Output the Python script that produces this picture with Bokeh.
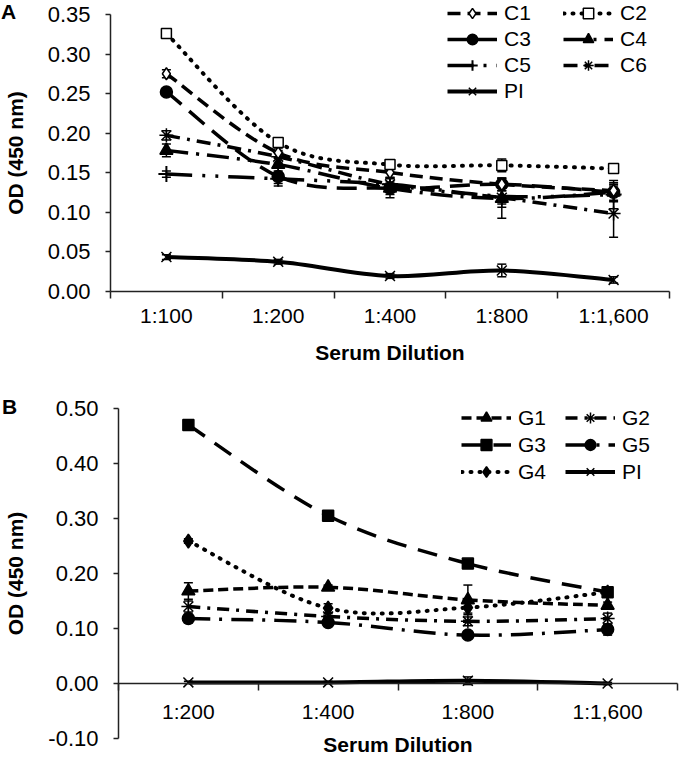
from bokeh.plotting import figure
from bokeh.models import (ColumnDataSource, FixedTicker, NumeralTickFormatter, Legend, LegendItem,
                          Whisker, TeeHead, Label, Range1d)
from bokeh.layouts import column
from bokeh.embed import file_html
from bokeh.resources import INLINE

FONT = "Liberation Sans"

# ---------------- Panel A data ----------------
a_dilutions = ["1:100", "1:200", "1:400", "1:800", "1:1,600"]
a_yticks = [0.00, 0.05, 0.10, 0.15, 0.20, 0.25, 0.30, 0.35]
a_C1 = [0.275, 0.175, 0.150, 0.135, 0.127]
a_C1_err = [0.005, 0.006, 0.006, 0.008, 0.006]
a_C2 = [0.326, 0.188, 0.160, 0.159, 0.155]
a_C2_err = [0.004, 0.006, 0.005, 0.008, 0.004]
a_C3 = [0.252, 0.145, 0.130, 0.135, 0.125]
a_C3_err = [0.004, 0.012, 0.008, 0.008, 0.010]
a_C4 = [0.178, 0.160, 0.130, 0.117, 0.125]
a_C4_err = [0.008, 0.008, 0.012, 0.025, 0.012]
a_C5 = [0.148, 0.142, 0.135, 0.120, 0.122]
a_C5_err = [0.004, 0.006, 0.008, 0.010, 0.018]
a_C6 = [0.197, 0.170, 0.135, 0.118, 0.098]
a_C6_err = [0.006, 0.008, 0.008, 0.012, 0.030]
a_PI = [0.043, 0.037, 0.019, 0.026, 0.014]
a_PI_err = [0.003, 0.003, 0.003, 0.008, 0.004]

# ---------------- Panel B data ----------------
b_dilutions = ["1:200", "1:400", "1:800", "1:1,600"]
b_yticks = [-0.10, 0.00, 0.10, 0.20, 0.30, 0.40, 0.50]
b_G1 = [0.168, 0.175, 0.152, 0.142]
b_G1_err = [0.015, 0.004, 0.027, 0.006]
b_G2 = [0.140, 0.122, 0.113, 0.118]
b_G2_err = [0.010, 0.005, 0.008, 0.010]
b_G3 = [0.470, 0.305, 0.218, 0.166]
b_G3_err = [0.004, 0.004, 0.005, 0.004]
b_G4 = [0.259, 0.137, 0.138, 0.166]
b_G4_err = [0.004, 0.008, 0.010, 0.008]
b_G5 = [0.118, 0.111, 0.088, 0.098]
b_G5_err = [0.008, 0.006, 0.006, 0.010]
b_PI = [0.002, 0.002, 0.005, 0.000]
b_PI_err = [0.002, 0.002, 0.007, 0.002]


def bezier_source(ys):
    n = len(ys)
    xs = list(range(1, n + 1))
    d = dict(x0=[], y0=[], x1=[], y1=[], cx0=[], cy0=[], cx1=[], cy1=[])
    for i in range(n - 1):
        ip = max(i - 1, 0)
        inx = min(i + 2, n - 1)
        d["x0"].append(xs[i]); d["y0"].append(ys[i])
        d["x1"].append(xs[i + 1]); d["y1"].append(ys[i + 1])
        d["cx0"].append(xs[i] + (xs[i + 1] - xs[ip]) / 6.0)
        d["cy0"].append(ys[i] + (ys[i + 1] - ys[ip]) / 6.0)
        d["cx1"].append(xs[i + 1] - (xs[inx] - xs[i]) / 6.0)
        d["cy1"].append(ys[i + 1] - (ys[inx] - ys[i]) / 6.0)
    return ColumnDataSource(d)


def add_series(p, ys, errs, marker, size, fill, dash, width=3.5, cap="butt", mlw=1.5):
    n = len(ys)
    xs = list(range(1, n + 1))
    p.bezier(x0="x0", y0="y0", x1="x1", y1="y1", cx0="cx0", cy0="cy0", cx1="cx1", cy1="cy1",
             source=bezier_source(ys), line_color="black", line_width=width,
             line_dash=dash, line_cap=cap)
    # hidden line renderer: only supplies the legend swatch
    proxy = p.line(x=xs, y=ys, line_color="black", line_width=width, line_dash=dash,
                   line_cap=cap, visible=False)
    pts = ColumnDataSource(dict(x=xs, y=ys,
                                upper=[y + e for y, e in zip(ys, errs)],
                                lower=[y - e for y, e in zip(ys, errs)]))
    sc = p.scatter(x="x", y="y", source=pts, marker=marker, size=size, fill_color=fill,
                   line_color="black", line_width=mlw)
    w = Whisker(source=pts, base="x", upper="upper", lower="lower", line_color="black",
                line_width=1.5,
                upper_head=TeeHead(size=9, line_color="black", line_width=1.5),
                lower_head=TeeHead(size=9, line_color="black", line_width=1.5))
    p.add_layout(w)
    return [proxy, sc]


def make_fig(n, ymin, ymax, yticks, W, H, ax_left, ax_right, y_top_px, y_bot_px):
    # the frame fills the whole canvas; axes are pinned inside it
    sx = (ax_right - ax_left) / n
    sy = (y_bot_px - y_top_px) / (ymax - ymin)
    xr = Range1d(0.5 - ax_left / sx, n + 0.5 + (W - ax_right) / sx)
    yr = Range1d(ymin - (H - y_bot_px) / sy, ymax + y_top_px / sy)
    p = figure(width=W, height=H, x_range=xr, y_range=yr,
               output_backend="svg", toolbar_location=None, min_border=0)
    p.xgrid.visible = False
    p.ygrid.visible = False
    p.outline_line_color = None
    p.background_fill_color = "white"
    for ax in (p.xaxis[0], p.yaxis[0]):
        ax.axis_line_color = "#222222"
        ax.axis_line_width = 1.5
        ax.major_label_text_font = FONT
        ax.major_label_text_font_size = "21px"
        ax.major_label_text_color = "black"
        ax.axis_label_text_font = FONT
        ax.axis_label_text_font_size = "21px"
        ax.axis_label_text_font_style = "bold"
        ax.axis_label_text_color = "black"
    p.yaxis.fixed_location = 0.5
    p.yaxis.bounds = (ymin, ymax)
    p.yaxis.ticker = FixedTicker(ticks=yticks)
    p.yaxis.formatter = NumeralTickFormatter(format="0.00")
    p.yaxis.major_label_text_font_size = "22px"
    p.yaxis.major_tick_out = 5
    p.yaxis.major_tick_in = 0
    p.yaxis.major_tick_line_color = "#222222"
    p.yaxis.major_tick_line_width = 1.5
    p.yaxis.minor_tick_line_color = None
    p.yaxis.axis_label = "OD (450 nm)"
    p.xaxis.fixed_location = 0
    p.xaxis.bounds = (0.5, n + 0.5)
    p.xaxis.ticker = FixedTicker(ticks=list(range(1, n + 1)),
                                 minor_ticks=[i + 0.5 for i in range(0, n + 1)])
    p.xaxis.major_tick_out = 0
    p.xaxis.major_tick_in = 0
    p.xaxis.minor_tick_out = 7
    p.xaxis.minor_tick_in = 0
    p.xaxis.minor_tick_line_color = "#222222"
    p.xaxis.minor_tick_line_width = 1.5
    p.xaxis.axis_label = "Serum Dilution"
    return p


def make_legend(items, x_left, y_top, gh, H):
    n = len(items)
    return Legend(items=items, location=(x_left, H - y_top - n * gh), orientation="vertical",
                  border_line_color=None, background_fill_alpha=0,
                  label_text_font=FONT, label_text_font_size="21px",
                  label_text_color="black",
                  glyph_width=50, glyph_height=gh, label_height=gh, label_standoff=7,
                  spacing=0, padding=0, margin=0)


# ================= Panel A =================
HA = 362
pA = make_fig(len(a_dilutions), 0.0, 0.35, a_yticks, 680, HA, 110, 669, 14, 290.5)
pA.xaxis.major_label_overrides = {i + 1: s for i, s in enumerate(a_dilutions)}
pA.xaxis.major_label_standoff = 6
pA.xaxis.axis_label_standoff = 10
pA.yaxis.major_label_standoff = 15
pA.yaxis.axis_label_standoff = 18

rA_PI = add_series(pA, a_PI, a_PI_err, "x", 14, None, "solid", width=4, mlw=1.5)
rA_C5 = add_series(pA, a_C5, a_C5_err, "cross", 16, None, "26 10 3 10 3 10", mlw=2)
rA_C4 = add_series(pA, a_C4, a_C4_err, "triangle", 13, "black", "22 8 3 8")
rA_C6 = add_series(pA, a_C6, a_C6_err, "asterisk", 14, None, "14 7 3 7", mlw=1.5)
rA_C3 = add_series(pA, a_C3, a_C3_err, "circle", 12, "black", "20 10")
rA_C1 = add_series(pA, a_C1, a_C1_err, "diamond", 12, "white", "13 7")
rA_C2 = add_series(pA, a_C2, a_C2_err, "square", 10, "white", "1 8", width=4, cap="round")

pA.add_layout(make_legend([LegendItem(label="C1", renderers=rA_C1),
                           LegendItem(label="C3", renderers=rA_C3),
                           LegendItem(label="C5", renderers=rA_C5),
                           LegendItem(label="PI", renderers=rA_PI)], 447, 0, 26, HA))
pA.add_layout(make_legend([LegendItem(label="C2", renderers=rA_C2),
                           LegendItem(label="C4", renderers=rA_C4),
                           LegendItem(label="C6", renderers=rA_C6)], 563, 0, 26, HA))
pA.add_layout(Label(x=8, y=HA - 11, x_units="screen", y_units="screen", text="A",
                    text_font=FONT, text_font_size="21px", text_font_style="bold",
                    text_align="center", text_baseline="middle", text_color="black"))

# ================= Panel B =================
HB = 397
pB = make_fig(len(b_dilutions), -0.10, 0.50, b_yticks, 680, HB, 118, 677, 46, 376)
pB.xaxis.major_label_overrides = {i + 1: s for i, s in enumerate(b_dilutions)}
pB.xaxis.major_label_standoff = 9
pB.xaxis.axis_label_standoff = 7
pB.yaxis.major_label_standoff = 15
pB.yaxis.axis_label_standoff = 18

rB_PI = add_series(pB, b_PI, b_PI_err, "x", 14, None, "solid", width=4, mlw=1.5)
rB_G5 = add_series(pB, b_G5, b_G5_err, "circle", 12, "black", "22 9 3 9")
rB_G2 = add_series(pB, b_G2, b_G2_err, "asterisk", 14, None, "12 7 3 7", mlw=1.5)
rB_G4 = add_series(pB, b_G4, b_G4_err, "diamond", 14, "black", "1 8", width=4, cap="round")
rB_G1 = add_series(pB, b_G1, b_G1_err, "triangle", 13, "black", "10 5")
rB_G3 = add_series(pB, b_G3, b_G3_err, "square", 11, "black", "20 12")

pB.add_layout(make_legend([LegendItem(label="G1", renderers=rB_G1),
                           LegendItem(label="G3", renderers=rB_G3),
                           LegendItem(label="G4", renderers=rB_G4)], 461, 42, 27, HB))
pB.add_layout(make_legend([LegendItem(label="G2", renderers=rB_G2),
                           LegendItem(label="G5", renderers=rB_G5),
                           LegendItem(label="PI", renderers=rB_PI)], 565, 42, 27, HB))
pB.add_layout(Label(x=9, y=HB - 44, x_units="screen", y_units="screen", text="B",
                    text_font=FONT, text_font_size="21px", text_font_style="bold",
                    text_align="center", text_baseline="middle", text_color="black"))

layout = column(pA, pB)
open("out.html", "w").write(file_html(layout, INLINE))
